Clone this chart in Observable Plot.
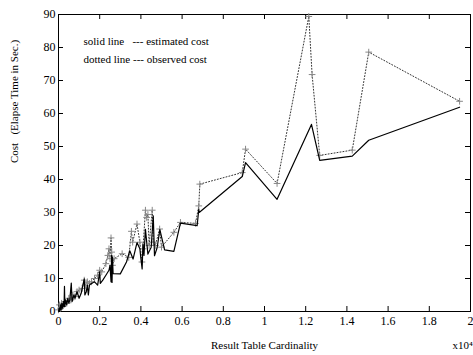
<!DOCTYPE html>
<html><head><meta charset="utf-8">
<script src="https://cdn.jsdelivr.net/npm/d3@7"></script>
<script src="https://cdn.jsdelivr.net/npm/@observablehq/plot@0.6"></script>
<style>
body{margin:0;background:#fff}
svg text{white-space:pre}
</style>
</head><body><div id="chart"></div>
<script>
// Result table cardinality (x10^4) and cost (elapse time in sec.)
const estimatedX = [0,0.003,0.006,0.01,0.013,0.016,0.02,0.024,0.027,0.029,0.031,0.035,0.04,0.045,0.05,0.055,0.062,0.066,0.075,0.08,0.09,0.1,0.11,0.125,0.128,0.135,0.14,0.145,0.15,0.16,0.175,0.19,0.2,0.203,0.215,0.23,0.245,0.25,0.255,0.258,0.26,0.262,0.265,0.3,0.33,0.346,0.362,0.381,0.395,0.4,0.406,0.41,0.415,0.422,0.434,0.45,0.46,0.466,0.479,0.492,0.515,0.56,0.592,0.673,0.681,0.683,0.892,0.908,1.061,1.228,1.268,1.426,1.506,1.947];
const estimatedCost = [0,1,0.3,2,0.5,2.5,1,3,1.5,7.6,1.5,3.5,2,4,2.5,3.5,8.6,3,5,4,6,4,5.5,9.9,5,6,8,5,8,8.5,9,8,12,8.5,9.5,11,12.5,14,9,17,8.8,16.5,11.5,11.4,15,18.4,15.9,20.9,19,16,12.9,20.5,17,24.9,17.4,19.5,29,16.9,19.4,24.8,18.7,18.2,26.8,26,31,30,40.9,45.1,34,56.7,45.8,47.1,51.9,61.9];
const observedX = [0,0.005,0.01,0.015,0.02,0.03,0.04,0.05,0.06,0.07,0.08,0.09,0.1,0.115,0.125,0.13,0.14,0.15,0.16,0.175,0.19,0.2,0.21,0.23,0.24,0.245,0.25,0.255,0.258,0.262,0.27,0.309,0.341,0.354,0.36,0.381,0.395,0.405,0.41,0.422,0.428,0.434,0.44,0.455,0.46,0.47,0.491,0.5,0.56,0.592,0.665,0.681,0.686,0.892,0.908,1.061,1.215,1.231,1.268,1.426,1.506,1.947];
const observedCost = [0.5,2,1,2.5,1.5,3,2.5,4,3.5,5,4.5,6,6.5,7,9.5,8,9,8.5,9,10,11,12.5,12,14.5,17,19,16,22.3,18,14,16,17.5,16.4,24.3,21,26.5,21,15,19,30.7,28.5,29.4,20,30.7,21,20,25,19.5,24,27,26.7,32,38.6,42.1,49.2,38.8,89.4,71.8,47.3,48.9,78.6,63.7];
const xTickValues = [0,0.2,0.4,0.6,0.8,1,1.2,1.4,1.6,1.8,2];
const xTickLabels = ["0","0.2","0.4","0.6","0.8","1","1.2","1.4","1.6","1.8","2"];
const yTickValues = [0,10,20,30,40,50,60,70,80,90];
const yTickLabels = ["0","10","20","30","40","50","60","70","80","90"];
const legendSolid = "solid line   --- estimated cost";
const legendDotted = "dotted line --- observed cost";

const est = estimatedX.map((x, i) => ({x, y: estimatedCost[i]}));
const obs = observedX.map((x, i) => ({x, y: observedCost[i]}));
const xl = new Map(xTickValues.map((v, i) => [v, xTickLabels[i]]));
const yl = new Map(yTickValues.map((v, i) => [v, yTickLabels[i]]));
const font = "Liberation Serif, Times New Roman, serif";

const W = 473, H = 355, mL = 58, mR = 3, mT = 14, mB = 44;
const plotW = W - mL - mR, plotH = H - mT - mB, tick = 5;
const xDom = [0, 2], yDom = [0, 90];
// tick length converted from pixels to data units
const tY = tick * (yDom[1] - yDom[0]) / plotH;
const tX = tick * (xDom[1] - xDom[0]) / plotW;

const chart = Plot.plot({
  width: W, height: H,
  marginLeft: mL, marginRight: mR, marginTop: mT, marginBottom: mB,
  style: {fontFamily: font, fontSize: "12px", background: "white", color: "black", overflow: "visible"},
  x: {domain: xDom},
  y: {domain: yDom},
  marks: [
    // inward ticks on all four sides
    Plot.ruleX(xTickValues, {x: d => d, y1: yDom[0], y2: yDom[0] + tY, stroke: "black"}),
    Plot.ruleX(xTickValues, {x: d => d, y1: yDom[1] - tY, y2: yDom[1], stroke: "black"}),
    Plot.ruleY(yTickValues, {y: d => d, x1: xDom[0], x2: xDom[0] + tX, stroke: "black"}),
    Plot.ruleY(yTickValues, {y: d => d, x1: xDom[1] - tX, x2: xDom[1], stroke: "black"}),
    Plot.axisX(xTickValues, {anchor: "bottom", tickSize: 0, tickPadding: 5, tickFormat: d => xl.get(d), label: null}),
    Plot.axisY(yTickValues, {anchor: "left", tickSize: 0, tickPadding: 3, tickFormat: d => yl.get(d), label: null}),
    Plot.frame({stroke: "black"}),
    Plot.line(obs, {x: "x", y: "y", stroke: "#333", strokeWidth: 1, strokeDasharray: "1,2"}),
    Plot.dot(obs, {x: "x", y: "y", symbol: "plus", r: 2.3, stroke: "#888", strokeWidth: 1}),
    Plot.line(est, {x: "x", y: "y", stroke: "black", strokeWidth: 1.2}),
    Plot.text([legendSolid], {frameAnchor: "top-left", textAnchor: "start", dx: 25, dy: 23, text: d => d, fontSize: 11}),
    Plot.text([legendDotted], {frameAnchor: "top-left", textAnchor: "start", dx: 25, dy: 41, text: d => d, fontSize: 11}),
    Plot.text(["Result Table Cardinality"], {frameAnchor: "bottom", dy: 37, text: d => d, fontSize: 11}),
    Plot.text(["x10\u2074"], {frameAnchor: "bottom-right", textAnchor: "start", dx: -18, dy: 37, text: d => d, fontSize: 11}),
    Plot.text(["Cost   (Elapse Time in Sec.)"], {frameAnchor: "left", dx: -44, rotate: -90, text: d => d, fontSize: 11})
  ]
});
document.getElementById("chart").appendChild(chart);
</script>
</body></html>
